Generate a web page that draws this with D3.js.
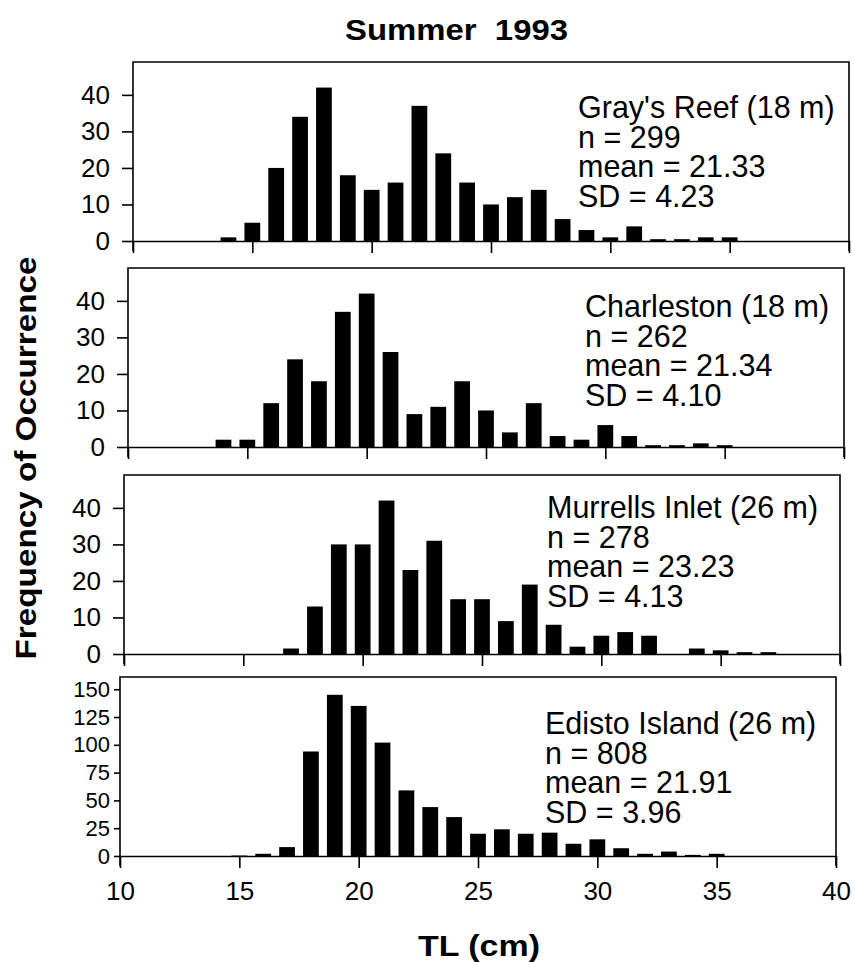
<!DOCTYPE html>
<html>
<head>
<meta charset="utf-8">
<script src="https://cdn.jsdelivr.net/npm/d3@7"></script>
<style>
    body { margin: 0; background: #fff; }
    svg { display: block; }
    text { font-family: Arial, "Liberation Sans", Helvetica, sans-serif; fill: #000; }
</style>
</head>
<body>
<div id="data-viz"></div>
<script>

// Length classes (TL, cm) - one bar per class
const lengthBins = [14, 15, 16, 17, 18, 19, 20, 21, 22, 23, 24, 25, 26, 27, 28, 29, 30, 31, 32, 33, 34, 35, 36, 37]

// Frequency of occurrence per length class
const graysReefCounts    = [1, 5, 20, 34, 42, 18, 14, 16, 37, 24, 16, 10, 12, 14, 6, 3, 1, 4, 0.5, 0.5, 1, 1, 0, 0]
const charlestonCounts   = [2, 2, 12, 24, 18, 37, 42, 26, 9, 11, 18, 10, 4, 12, 3, 2, 6, 3, 0.5, 0.5, 1, 0.5, 0, 0]
const murrellsInletCounts = [0, 0, 0, 1.5, 13, 30, 30, 42, 23, 31, 15, 15, 9, 19, 8, 2, 5, 6, 5, 0, 1.5, 1, 0.5, 0.5]
const edistoIslandCounts = [0, 0.4, 2, 8, 94, 145, 135, 102, 59, 44, 35, 20, 24, 20, 21, 11, 15, 7, 2, 4, 1, 2, 0, 0]

const siteNames = ["Gray's Reef (18 m)", "Charleston (18 m)", "Murrells Inlet (26 m)", "Edisto Island (26 m)"]
const sampleSizes = [299, 262, 278, 808]
const meanLengths = ["21.33", "21.34", "23.23", "21.91"]
const sdLengths = ["4.23", "4.10", "4.13", "3.96"]

const yTicksSmall = [0, 10, 20, 30, 40]
const yTicksLarge = [0, 25, 50, 75, 100, 125, 150]
const xTicks = [10, 15, 20, 25, 30, 35, 40]

function drawChart() {

    const width = 855
    const height = 962
    const plotHeight = 179

    const svg = d3.select("#data-viz")
        .append("svg")
        .attr("width", width)
        .attr("height", height)

    // scanned figure is slightly skewed, so each panel gets a small shift
    const panels = [
        {counts: graysReefCounts,     yMax: 49,  yTicks: yTicksSmall, top: 62,  shift: 13, textX: 578, textY: 118},
        {counts: charlestonCounts,    yMax: 49,  yTicks: yTicksSmall, top: 268, shift: 8,  textX: 585, textY: 317},
        {counts: murrellsInletCounts, yMax: 49,  yTicks: yTicksSmall, top: 475, shift: 4,  textX: 547, textY: 518},
        {counts: edistoIslandCounts,  yMax: 161, yTicks: yTicksLarge, top: 677, shift: 0,  textX: 545, textY: 734},
    ]

    panels.forEach((panel, i) => {
        const isBottom = i === panels.length - 1

        const xScale = d3.scaleLinear()
            .domain([10, 40])
            .range([120 + panel.shift, 836 + panel.shift])

        const yScale = d3.scaleLinear()
            .domain([0, panel.yMax])
            .range([panel.top + plotHeight, panel.top])

        const base = yScale(0)
        const g = svg.append("g")

        // frame: top, left and right sides, open at the bottom
        g.append("path")
            .attr("d", `M${xScale(10)},${base + 10}V${panel.top}H${xScale(40)}V${base + 10}`)
            .attr("fill", "none")
            .attr("stroke", "#000")
            .attr("stroke-width", 1.6)

        const xAxis = d3.axisBottom(xScale)
            .tickValues(xTicks)
            .tickSize(12)
            .tickSizeOuter(0)
            .tickPadding(14)
        if (!isBottom) xAxis.tickFormat("")

        const xAxisGroup = g.append("g")
            .attr("transform", `translate(0,${base})`)
            .call(xAxis)
        xAxisGroup.attr("font-family", null).attr("font-size", 26)
        xAxisGroup.selectAll("line, path").attr("stroke-width", 1.6)

        const yAxis = d3.axisLeft(yScale)
            .tickValues(panel.yTicks)
            .tickSize(isBottom ? 6 : 11)
            .tickPadding(isBottom ? 4 : 12)
            .tickSizeOuter(0)

        const yAxisGroup = g.append("g")
            .attr("transform", `translate(${xScale(10)},0)`)
            .call(yAxis)
        yAxisGroup.attr("font-family", null).attr("font-size", isBottom ? 22 : 26)
        yAxisGroup.select(".domain").remove()
        yAxisGroup.selectAll("line").attr("stroke-width", 1.6)

        const barWidth = (xScale(11) - xScale(10)) * 0.66
        const barData = lengthBins
            .map((len, j) => ({len: len, count: panel.counts[j]}))
            .filter(d => d.count > 0)

        g.append("g")
            .selectAll("rect")
            .data(barData)
            .join("rect")
                .attr("x", d => xScale(d.len) - barWidth / 2)
                .attr("width", barWidth)
                .attr("y", d => yScale(d.count))
                .attr("height", d => base - yScale(d.count))
                .attr("fill", "#000")

        const lines = [
            siteNames[i],
            `n = ${sampleSizes[i]}`,
            `mean = ${meanLengths[i]}`,
            `SD = ${sdLengths[i]}`,
        ]
        g.append("g")
            .selectAll("text")
            .data(lines)
            .join("text")
                .attr("x", panel.textX)
                .attr("y", (d, k) => panel.textY + k * 29.5)
                .attr("font-size", 30.5)
                .text(d => d)
    })

    // title
    svg.append("text")
        .attr("x", 345)
        .attr("y", 40)
        .attr("font-size", 30)
        .attr("font-weight", "bold")
        .attr("textLength", 223)
        .attr("lengthAdjust", "spacingAndGlyphs")
        .attr("xml:space", "preserve")
        .text("Summer  1993")

    // y label
    svg.append("text")
        .attr("transform", "translate(36,458) rotate(-90)")
        .attr("text-anchor", "middle")
        .attr("font-size", 29)
        .attr("font-weight", "bold")
        .attr("textLength", 403)
        .attr("lengthAdjust", "spacingAndGlyphs")
        .text("Frequency of Occurrence")

    // x label
    svg.append("text")
        .attr("x", 418)
        .attr("y", 956)
        .attr("font-size", 30)
        .attr("font-weight", "bold")
        .attr("textLength", 122)
        .attr("lengthAdjust", "spacingAndGlyphs")
        .text("TL (cm)")
}

drawChart()
</script>
</body>
</html>
